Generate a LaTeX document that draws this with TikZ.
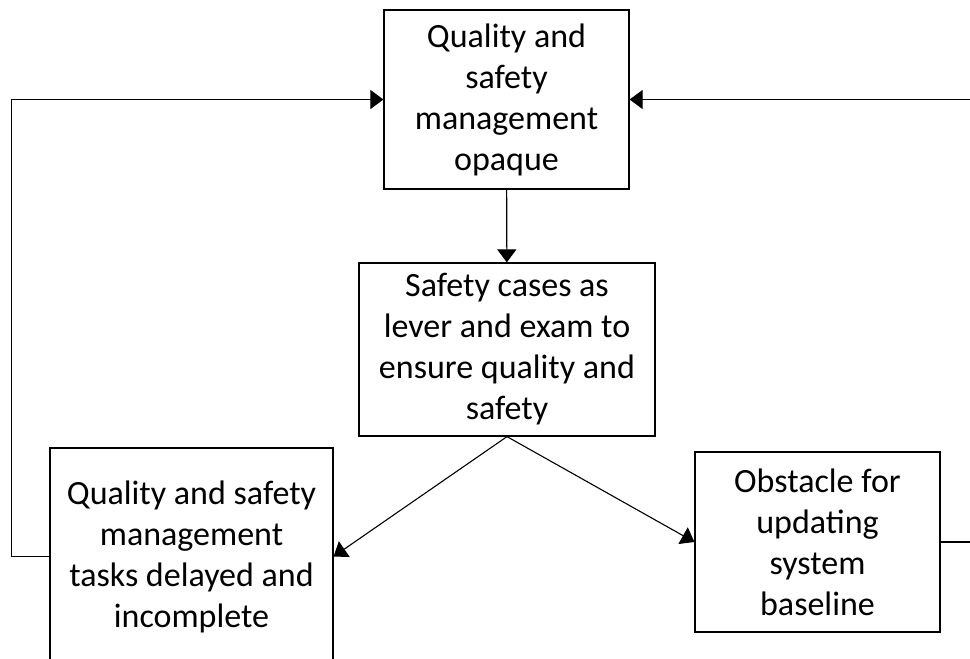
\documentclass[tikz,border=0pt]{standalone}
\usepackage{fontspec}
\setmainfont{Carlito}
\usetikzlibrary{arrows.meta,positioning}

\tikzset{
  causebox/.style={draw,line width=1.2pt,align=center,inner sep=0pt,
    font=\fontsize{34}{41}\selectfont,
    execute at begin node=\rule{0pt}{40pt}},
}

\begin{document}
\begin{tikzpicture}[x=1pt,y=-1pt,>={Triangle[length=13pt,width=19pt]},line width=1.1pt]
    \useasboundingbox (0,0) rectangle (970,659);
    \clip (0,0) rectangle (970,659);

    \node[causebox,minimum width=245pt,minimum height=179pt] (opaque) at (506.5,99.5)
      {Quality and\\ safety\\ management\\ opaque};
    \node[causebox,minimum width=296pt,minimum height=173pt] (cases) at (507,349.5)
      {Safety cases as\\ lever and exam to\\ ensure quality and\\ safety};
    \node[causebox,minimum width=283pt,minimum height=217pt] (late) at (191.5,556.5)
      {Quality and safety\\ management\\ tasks delayed and\\ incomplete};
    \node[causebox,minimum width=245pt,minimum height=180pt] (obstacle) at (817.5,542)
      {Obstacle for\\ updating\\ system\\ baseline};

    \draw[->] (opaque) -- (cases);
    \draw[->] (cases.south) -- (late.east);
    \draw[->] (cases.south) -- (obstacle.west);

    % loops back to the top
    \draw[->] (late.west) -- ++(-38,0) |- (opaque.west);
    \draw[->] (obstacle.east) -- ++(50,0) |- (opaque.east);
\end{tikzpicture}
\end{document}
